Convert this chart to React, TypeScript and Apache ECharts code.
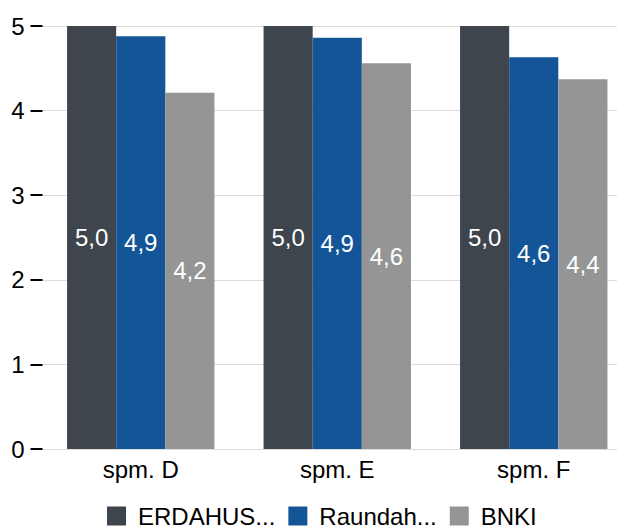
import React, { useEffect, useRef } from "react";
import * as echarts from "echarts";

const categories = ["spm. D", "spm. E", "spm. F"];
const seriesNames = ["ERDAHUS...", "Raundah...", "BNKI"];
const erdahus = [5.0, 5.0, 5.0];
const raundah = [4.88, 4.86, 4.63];
const bnki = [4.21, 4.56, 4.37];
const yTicks = [0, 1, 2, 3, 4, 5];
const colors = ["#3e454c", "#135597", "#959595"];

const FONT = "Liberation Sans, Arial, Helvetica, sans-serif";

export default function App() {
  const ref = useRef<HTMLDivElement>(null);
  useEffect(() => {
    if (!ref.current) return;
    const chart = echarts.init(ref.current, undefined, { renderer: "svg" });
    const values = [erdahus, raundah, bnki];
    chart.setOption({
      animation: false,
      textStyle: { fontFamily: FONT },
      grid: {
        left: 42.5,
        width: 589.5,
        top: 26,
        height: 423,
        containLabel: false,
        outerBoundsMode: "none",
      },
      legend: {
        data: seriesNames,
        left: 102,
        top: 499,
        itemWidth: 19,
        itemHeight: 19,
        itemGap: 13,
        icon: "rect",
        textStyle: { fontSize: 24, color: "#000", fontFamily: FONT, padding: [0, 0, 1, 7] },
      },
      xAxis: {
        type: "category",
        data: categories,
        axisLine: { show: true, lineStyle: { color: "#dddddd", width: 1 } },
        axisTick: { show: false },
        axisLabel: { fontSize: 24, color: "#000", margin: 8, fontFamily: FONT },
      },
      yAxis: {
        type: "value",
        min: yTicks[0],
        max: yTicks[yTicks.length - 1],
        interval: 1,
        axisLine: { show: false },
        axisTick: { show: true, length: 12, lineStyle: { color: "#000", width: 2 } },
        axisLabel: { fontSize: 24, color: "#000", margin: 18, fontFamily: FONT },
        splitLine: { show: true, lineStyle: { color: "#dddddd", width: 1 } },
      },
      series: seriesNames.map((name, i) => ({
        name,
        type: "bar",
        data: values[i],
        barGap: "0%",
        barCategoryGap: "25%",
        itemStyle: { color: colors[i] },
        label: {
          show: true,
          position: "inside",
          color: "#ffffff",
          fontSize: 24,
          fontFamily: FONT,
          formatter: (p: any) => Number(p.value).toFixed(1).replace(".", ","),
        },
      })),
    });
    return () => chart.dispose();
  }, []);
  return (
    <div
      ref={ref}
      style={{ position: "absolute", left: 0, top: 0, width: 617, height: 526 }}
    />
  );
}
